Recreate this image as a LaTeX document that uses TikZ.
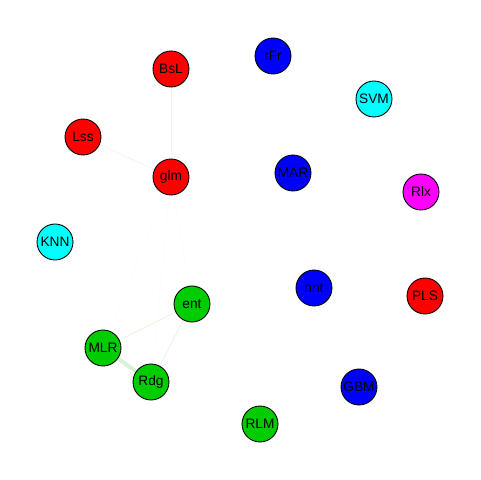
\documentclass[tikz,border=0pt]{standalone}
\usepackage{fontspec}
\setmainfont{Liberation Sans}
\begin{document}
\begin{tikzpicture}[x=0.02cm,y=-0.02cm,
  vtx/.style={circle,draw=black,line width=0.5pt,minimum size=0.72cm,inner sep=0pt,font=\fontsize{7.8}{9}\selectfont},
  red/.style={vtx,fill={rgb,255:red,255;green,0;blue,0}},
  blu/.style={vtx,fill={rgb,255:red,0;green,0;blue,255}},
  cyn/.style={vtx,fill={rgb,255:red,0;green,255;blue,255}},
  mag/.style={vtx,fill={rgb,255:red,255;green,0;blue,255}},
  grn/.style={vtx,fill={rgb,255:red,0;green,205;blue,0}},
  faint/.style={draw=black!5,line width=0.35pt},
  fainter/.style={draw=black!1,line width=0.3pt},
  gedge/.style={draw=green!60!black!10,line width=0.45pt},
  gthick/.style={draw=green!60!black!15,line width=2.2pt}]
\useasboundingbox (0,0) rectangle (480,480);
\fill[white] (0,0) rectangle (480,480);
\coordinate (BsLc) at (171,69);
\coordinate (rFrc) at (273,56);
\coordinate (SVMc) at (374,99);
\coordinate (Lssc) at (83,137);
\coordinate (glmc) at (171,177);
\coordinate (MARc) at (293,173);
\coordinate (Rlxc) at (421,192);
\coordinate (KNNc) at (55,242);
\coordinate (entc) at (192,304);
\coordinate (nntc) at (314,288);
\coordinate (PLSc) at (425,296);
\coordinate (MLRc) at (103,348);
\coordinate (Rdgc) at (151,382);
\coordinate (GBMc) at (359,387);
\coordinate (RLMc) at (260,424);
% edges
\draw[faint] (BsLc) -- (glmc);
\draw[faint] (Lssc) -- (glmc);
\draw[fainter] (Lssc) -- (BsLc);
\draw[fainter] (glmc) -- (entc);
\draw[fainter] (glmc) -- (MLRc);
\draw[fainter] (glmc) -- (Rdgc);
\draw[gedge] (entc) -- (MLRc);
\draw[gedge] (entc) -- (Rdgc);
\draw[gthick] (MLRc) -- (Rdgc);
% nodes
\node[red] (BsL) at (BsLc) {BsL};
\node[blu] (rFr) at (rFrc) {rFr};
\node[cyn] (SVM) at (SVMc) {SVM};
\node[red] (Lss) at (Lssc) {Lss};
\node[red] (glm) at (glmc) {glm};
\node[blu] (MAR) at (MARc) {MAR};
\node[mag] (Rlx) at (Rlxc) {Rlx};
\node[cyn] (KNN) at (KNNc) {KNN};
\node[grn] (ent) at (entc) {ent};
\node[blu] (nnt) at (nntc) {nnt};
\node[red] (PLS) at (PLSc) {PLS};
\node[grn] (MLR) at (MLRc) {MLR};
\node[grn] (Rdg) at (Rdgc) {Rdg};
\node[blu] (GBM) at (GBMc) {GBM};
\node[grn] (RLM) at (RLMc) {RLM};
\end{tikzpicture}
\end{document}
